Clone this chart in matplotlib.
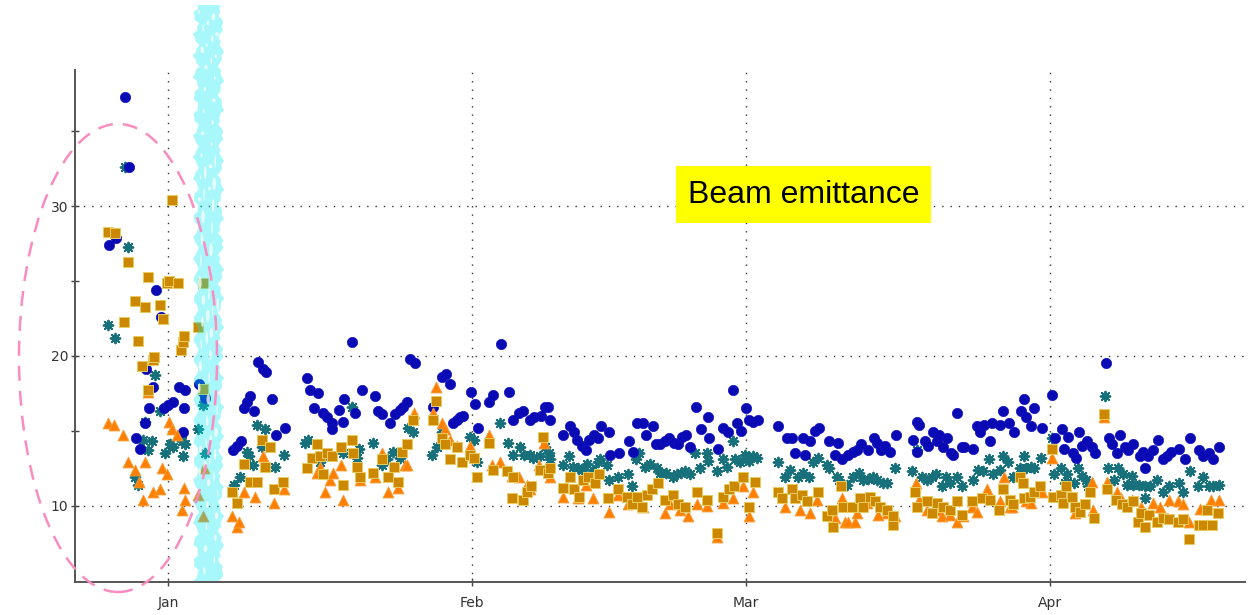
import matplotlib
matplotlib.use("Agg")
import matplotlib.pyplot as plt
import numpy as np
from matplotlib.patches import Ellipse, Polygon, Rectangle
from matplotlib.ticker import FixedLocator, NullFormatter

# ── Data: day offset from 1 Jan, emittance value ───────────────────────────────
circle_pts = [
    (-6.0, 27.4), (-5.3, 27.9), (-4.4, 37.3), (-4.0, 32.6), (-3.3, 14.5), (-2.9, 13.8),
    (-2.4, 15.5), (-2.3, 19.1), (-1.9, 16.5), (-1.5, 17.9), (-1.2, 24.4), (-0.7, 22.6),
    (-0.4, 16.5), (0.0, 16.7), (0.5, 16.9), (1.1, 17.9), (1.5, 14.9), (1.6, 16.5),
    (1.7, 17.7), (3.2, 18.1), (3.6, 17.6), (3.8, 17.2),
    (6.6, 13.7), (7.0, 14.0), (7.4, 14.3), (7.7, 16.5), (8.1, 16.9), (8.4, 17.3),
    (8.8, 16.3), (9.2, 19.6), (9.7, 19.1), (10.0, 18.9), (10.6, 17.1), (11.0, 14.7),
    (11.9, 15.2), (14.2, 18.5), (14.5, 17.7), (14.9, 16.5), (15.3, 17.5), (15.8, 16.2),
    (16.2, 15.9), (16.7, 15.5), (16.7, 15.1), (17.4, 16.4), (17.8, 15.6), (18.0, 17.1),
    (18.8, 20.9), (19.1, 16.2), (19.8, 17.7), (21.1, 17.3), (21.4, 16.3), (21.8, 16.1),
    (22.6, 15.5), (23.2, 16.1), (23.7, 16.4), (24.0, 16.6), (24.4, 16.9), (24.7, 19.8),
    (25.2, 19.5), (27.0, 16.6), (28.0, 18.6), (28.4, 18.8), (28.8, 18.1), (29.1, 15.5),
    (29.5, 15.7), (29.8, 15.9), (30.1, 16.0), (30.9, 17.6), (31.3, 16.8), (31.6, 15.2),
    (32.8, 16.9), (33.2, 17.4), (34.0, 20.8), (34.8, 17.6), (35.2, 15.7), (35.8, 16.2),
    (36.2, 16.3), (36.9, 15.7), (37.3, 15.9), (38.1, 16.0), (38.5, 16.6), (38.8, 16.6),
    (39.0, 15.7), (40.3, 14.7), (41.0, 15.3), (41.4, 14.9), (41.7, 14.4), (42.2, 14.0),
    (42.6, 13.7), (43.0, 14.4), (43.5, 14.7), (43.9, 14.5), (44.2, 15.3), (45.0, 14.9),
    (45.1, 13.4), (46.0, 13.5), (47.0, 14.3), (47.4, 13.6), (47.9, 15.5), (48.5, 15.5),
    (48.8, 14.7), (49.5, 15.3), (49.8, 14.1), (50.2, 14.1), (50.7, 14.3), (51.1, 14.5),
    (51.6, 14.2), (52.0, 14.1), (52.4, 14.6), (52.9, 14.7), (53.3, 13.9), (53.9, 16.6),
    (54.4, 15.1), (55.1, 15.9), (55.2, 14.5), (56.1, 13.8), (56.6, 15.2), (57.1, 14.9),
    (57.6, 17.7), (58.1, 15.5), (58.5, 15.0), (59.0, 16.5), (59.3, 15.7), (59.7, 15.6),
    (60.2, 15.7), (62.2, 15.3), (63.2, 14.5), (63.7, 14.5), (64.0, 13.5), (64.8, 14.5),
    (65.0, 13.4), (65.5, 14.3), (66.0, 15.0), (66.4, 15.2), (67.4, 14.3), (68.1, 13.4),
    (68.4, 14.2), (68.8, 13.1), (69.4, 13.4), (69.9, 13.6), (70.3, 13.7), (70.7, 14.1),
    (71.4, 13.7), (72.0, 14.5), (72.3, 14.2), (72.8, 13.7), (73.2, 14.0), (73.7, 13.6),
    (74.3, 14.7), (76.0, 14.4), (76.4, 15.6), (76.6, 15.4), (76.4, 13.6), (77.2, 14.3),
    (77.6, 14.0), (78.1, 14.9), (78.5, 14.3), (78.7, 14.7), (79.1, 13.9), (79.5, 14.5),
    (79.9, 13.5), (80.1, 13.4), (80.5, 16.2), (81.0, 13.9), (81.2, 13.9), (82.1, 13.8),
    (82.5, 15.3), (82.9, 14.9), (83.3, 15.4), (83.9, 14.3), (84.1, 15.5), (84.9, 15.4),
    (85.2, 16.3), (85.8, 15.5), (86.3, 14.9), (87.0, 16.3), (87.3, 17.1), (87.6, 15.9),
    (88.1, 15.3), (88.4, 16.5), (89.2, 15.2), (90.2, 17.4), (90.5, 14.5), (91.2, 15.1),
    (91.4, 13.8), (91.8, 14.6), (92.3, 13.5), (92.7, 13.2), (93.0, 14.9), (93.3, 14.0),
    (93.8, 14.3), (94.3, 13.9), (94.6, 13.5), (95.7, 19.5), (96.0, 14.5), (96.3, 14.1),
    (96.8, 13.5), (97.1, 14.7), (97.7, 13.9), (98.0, 13.7), (98.5, 14.1), (99.2, 13.3),
    (99.5, 13.6), (99.7, 12.5), (100.0, 13.3), (100.5, 13.7), (101.0, 14.4), (101.5, 13.1),
    (101.9, 13.3), (102.3, 13.6), (103.2, 13.8), (103.8, 13.1), (104.3, 14.5), (105.2, 13.7),
    (105.6, 13.3), (106.2, 13.5), (106.6, 13.1), (107.2, 13.9),
]

star_pts = [
    (-6.1, 22.1), (-5.4, 21.2), (-4.4, 32.6), (-4.1, 27.3), (-3.4, 11.9), (-3.1, 11.4),
    (-2.6, 14.4), (-2.4, 15.6), (-2.0, 13.7), (-1.6, 14.3), (-1.3, 18.7), (-0.8, 16.3),
    (-0.3, 13.5), (0.2, 14.1), (0.5, 13.9), (1.4, 14.3), (1.5, 13.3), (1.7, 14.1),
    (3.1, 15.1), (3.6, 16.7), (3.8, 13.5),
    (6.7, 11.4), (7.3, 11.9), (8.1, 13.6), (8.3, 13.3), (8.7, 12.7), (9.1, 15.4),
    (9.6, 13.9), (9.9, 15.1), (10.9, 12.6), (11.8, 13.4), (14.0, 14.2), (14.3, 14.4),
    (15.5, 12.9), (16.0, 13.4), (17.9, 13.5), (18.8, 16.6), (19.3, 13.2), (19.5, 13.8),
    (20.9, 14.2), (21.8, 12.7), (22.3, 13.1), (23.0, 13.6), (23.7, 13.2), (24.5, 15.2),
    (25.0, 14.9), (26.9, 13.4), (27.4, 13.9), (28.0, 14.9), (30.8, 14.6), (31.2, 14.4),
    (31.5, 12.9), (33.9, 15.5), (34.7, 14.2), (35.2, 13.4), (35.9, 13.9), (36.3, 13.4),
    (36.9, 13.4), (37.2, 13.2), (38.0, 13.3), (38.5, 13.9), (38.9, 13.5),
    (39.0, 13.1), (40.3, 12.7), (40.9, 13.3), (41.3, 12.6), (41.8, 12.5), (42.2, 12.4),
    (42.8, 12.8), (43.4, 12.4), (43.9, 12.9), (44.1, 13.1), (44.8, 12.7), (45.0, 11.7),
    (45.9, 11.9), (46.9, 12.1), (47.3, 11.3), (47.8, 13.1), (48.1, 13.5), (48.7, 12.6),
    (49.2, 12.8), (49.9, 12.5), (50.2, 12.2), (50.8, 12.2), (51.5, 11.9), (51.9, 12.1),
    (52.3, 12.2), (52.8, 12.3), (53.3, 12.1), (53.8, 13.5), (54.3, 12.5), (55.0, 13.5),
    (55.1, 13.0), (56.0, 12.3), (56.6, 13.1), (57.0, 12.6), (57.6, 14.3), (57.9, 13.1),
    (58.4, 12.9), (58.9, 13.4), (59.3, 13.0), (59.7, 13.3), (60.1, 13.2), (62.2, 12.9),
    (63.0, 11.9), (63.5, 12.4), (64.3, 11.9), (64.8, 12.2), (65.4, 11.9), (65.8, 12.9),
    (66.3, 13.2), (67.2, 12.7), (67.4, 12.5), (68.3, 11.9), (68.5, 11.7), (69.3, 11.4),
    (69.9, 11.9), (70.5, 12.2), (70.9, 11.7), (71.4, 11.8), (71.9, 11.9), (72.3, 11.7),
    (73.0, 11.5), (73.4, 11.5), (74.2, 12.5), (75.9, 12.3), (76.4, 13.7), (76.9, 11.9),
    (77.4, 11.7), (78.0, 11.9), (78.4, 12.1), (79.0, 11.3), (79.4, 11.9), (79.8, 11.5),
    (80.5, 11.9), (81.0, 11.3), (82.1, 11.7), (82.7, 12.4), (83.2, 12.3), (83.8, 13.1),
    (84.2, 12.1), (84.9, 12.4), (85.2, 13.3), (85.7, 12.9),
    (86.2, 11.9), (86.9, 12.5), (87.3, 13.3), (87.6, 12.5), (88.1, 12.6), (88.4, 12.5),
    (89.1, 13.2), (90.2, 14.5), (90.4, 12.1), (91.1, 12.5), (91.5, 11.5), (91.7, 12.1),
    (92.4, 11.5), (92.9, 12.5), (93.3, 12.0), (93.7, 11.7), (93.9, 11.3), (95.6, 17.3),
    (95.9, 12.5), (96.5, 11.7), (96.9, 12.5), (97.4, 12.1), (97.9, 11.4), (98.4, 12.0),
    (98.5, 11.4), (99.1, 11.4), (99.7, 10.5), (99.7, 11.3), (100.2, 11.3), (100.9, 11.7),
    (101.5, 10.9), (102.1, 11.3), (103.2, 11.5), (103.6, 10.9), (104.3, 12.3), (105.1, 11.3),
    (105.6, 11.9), (106.2, 11.3), (106.6, 11.3), (107.2, 11.4),
]

triangle_pts = [
    (-6.1, 15.5), (-5.5, 15.4), (-4.6, 14.7), (-4.1, 12.9), (-3.4, 12.4), (-3.0, 11.6),
    (-2.6, 10.4), (-2.4, 12.9), (-2.0, 17.6), (-1.5, 10.9), (-0.8, 11.1), (-0.6, 12.5),
    (-0.1, 12.1), (0.1, 15.6), (0.4, 15.1), (0.9, 14.7), (1.4, 9.7), (1.6, 11.2),
    (1.7, 10.4), (3.1, 10.7), (3.6, 9.3), (3.7, 12.5),
    (6.5, 9.3), (7.0, 8.6), (7.2, 8.9), (7.7, 10.9), (8.9, 10.6), (9.7, 13.3),
    (10.8, 10.2), (11.8, 11.1), (15.2, 12.2), (15.5, 12.6), (16.0, 10.9), (16.5, 11.7),
    (16.8, 12.2), (17.6, 12.7), (17.9, 10.4), (19.6, 11.7), (21.1, 11.9), (21.8, 13.5),
    (22.4, 10.9), (23.5, 11.2), (24.2, 12.7), (24.4, 12.7), (25.1, 16.2), (27.0, 16.2),
    (27.3, 17.9), (28.0, 15.5), (28.3, 15.1), (28.8, 14.4), (29.5, 14.0), (30.8, 14.0),
    (32.7, 14.7), (33.1, 12.7), (33.9, 12.9), (35.1, 12.0), (35.8, 11.9), (36.6, 11.4),
    (36.9, 11.1), (37.9, 12.7), (38.4, 14.2),
    (39.0, 11.9), (40.3, 10.6), (41.8, 10.5), (42.6, 11.4), (43.4, 10.5), (45.0, 9.6),
    (45.9, 10.7), (46.9, 10.1), (48.5, 9.9), (50.7, 9.5), (51.2, 10.1), (52.2, 9.7),
    (53.1, 9.3), (54.0, 10.1), (55.0, 10.0), (56.0, 7.9), (56.6, 10.2), (57.7, 10.5),
    (58.7, 11.3), (59.3, 9.3), (59.7, 10.9),
    (63.0, 9.9), (64.5, 9.7), (65.5, 9.5), (66.2, 10.4), (68.1, 9.2), (68.8, 10.5),
    (69.1, 8.9), (69.4, 8.9), (70.1, 8.9), (70.3, 9.5), (71.3, 10.2), (72.4, 9.4),
    (73.4, 9.5), (74.2, 9.3), (76.3, 11.5), (76.6, 10.4), (77.4, 9.7), (78.5, 9.7),
    (79.0, 9.3), (79.8, 9.4), (80.5, 8.9), (81.1, 9.3), (82.0, 9.9), (82.6, 9.6),
    (83.6, 11.1), (84.9, 10.3), (85.3, 11.9), (85.9, 9.9),
    (86.1, 9.9), (87.6, 10.3), (88.1, 10.2), (89.2, 10.9), (90.2, 13.2), (92.6, 9.5),
    (92.8, 9.9), (94.3, 11.6), (94.4, 9.7), (95.5, 15.9), (95.8, 11.6), (96.8, 10.9),
    (97.2, 10.5), (98.4, 10.4), (99.3, 9.9), (100.5, 10.2), (101.2, 9.9), (102.1, 10.4),
    (103.1, 10.3), (103.6, 10.1), (104.2, 8.9), (105.3, 9.8), (105.9, 9.8), (106.4, 10.4),
    (107.2, 10.4),
]

square_pts = [
    (-6.1, 28.3), (-5.4, 28.2), (-4.5, 22.3), (-4.1, 26.3), (-3.4, 23.7), (-3.1, 21.0),
    (-2.7, 19.3), (-2.4, 23.3), (-2.0, 25.3), (-2.0, 17.7), (-1.5, 19.7), (-1.4, 19.9),
    (-0.8, 23.4), (-0.5, 22.5), (-0.1, 24.9), (0.1, 25.0), (0.4, 30.4), (1.0, 24.9),
    (1.3, 20.4), (1.5, 20.9), (1.6, 21.3), (3.1, 21.9), (3.6, 24.9), (3.6, 17.8),
    (6.5, 10.9), (7.0, 10.2), (7.7, 12.8), (8.4, 11.6), (9.1, 11.6), (9.6, 14.4),
    (9.9, 12.6), (10.4, 13.9), (10.8, 11.1), (11.7, 11.6), (14.2, 12.5), (14.7, 13.2),
    (15.2, 14.1), (15.5, 13.3), (15.8, 12.1), (16.2, 13.5), (16.7, 13.3), (17.6, 13.9),
    (17.9, 11.4), (18.8, 14.4), (18.9, 13.5), (19.3, 12.6), (19.6, 11.9), (20.9, 12.2),
    (21.8, 13.1), (22.4, 11.9), (23.1, 12.6), (23.5, 11.6), (23.9, 13.6), (24.4, 14.1),
    (25.0, 15.7), (27.0, 15.7), (27.3, 17.0), (28.0, 14.5), (28.3, 14.1), (28.8, 13.1),
    (29.5, 13.9), (30.0, 12.9), (30.8, 13.4), (31.2, 13.2), (31.5, 11.9), (32.7, 14.2),
    (33.2, 12.4), (34.6, 12.3), (35.1, 10.5), (35.2, 11.9), (36.2, 10.4), (36.6, 10.9),
    (37.0, 11.3), (38.0, 12.4), (38.3, 14.6), (38.8, 12.2),
    (39.0, 12.5), (40.3, 11.2), (41.0, 11.9), (41.4, 11.1), (41.9, 10.6), (42.3, 11.7),
    (42.9, 11.9), (43.6, 11.5), (44.0, 12.1), (44.9, 10.5), (45.9, 11.1), (46.8, 10.6),
    (47.3, 10.1), (47.9, 10.6), (48.4, 9.9), (48.9, 10.7), (49.4, 11.1), (50.0, 11.5),
    (50.7, 10.4), (51.5, 10.7), (52.0, 10.1), (52.8, 9.9), (54.0, 10.9), (55.0, 10.4),
    (56.0, 8.2), (56.6, 10.6), (57.2, 11.1), (57.8, 11.3), (58.7, 11.9), (59.3, 9.9),
    (59.9, 11.6), (62.2, 10.9),
    (62.7, 10.5), (63.7, 11.1), (64.0, 10.5), (64.7, 10.7), (65.2, 10.3), (66.3, 10.9),
    (67.2, 9.3), (67.8, 9.7), (67.9, 8.6), (68.7, 11.3), (68.9, 9.9), (69.8, 9.9),
    (70.6, 10.5), (70.9, 9.9), (71.6, 10.6), (72.1, 10.3), (72.7, 9.9), (73.4, 9.7),
    (74.0, 8.7), (74.0, 9.3), (76.2, 10.9), (76.4, 9.9), (77.4, 10.3), (78.0, 9.5),
    (78.5, 10.2), (79.1, 9.9), (79.8, 9.7), (80.5, 10.3), (81.0, 9.4), (82.0, 10.3),
    (83.1, 10.5), (83.9, 10.4), (84.8, 9.7), (85.2, 11.1), (85.9, 10.4),
    (86.2, 10.1), (86.9, 11.9), (87.2, 11.5), (87.3, 10.5), (88.0, 10.6), (88.4, 10.9),
    (89.0, 11.3), (90.2, 13.8), (90.3, 10.6), (91.1, 10.7), (91.3, 10.2), (91.6, 11.3),
    (92.2, 10.6), (92.6, 9.9), (93.1, 9.6), (93.6, 10.1), (94.1, 10.9), (94.5, 9.2),
    (95.5, 16.1), (95.8, 11.1), (96.7, 10.4), (97.3, 10.1), (97.9, 9.9), (98.5, 10.3),
    (99.0, 8.9), (99.3, 9.5), (99.7, 8.6), (100.1, 9.4), (100.9, 8.9), (101.5, 9.2),
    (102.1, 9.1), (103.1, 8.9), (103.6, 9.1), (104.2, 7.8), (105.2, 8.7), (105.6, 8.7),
    (106.0, 9.7), (106.5, 8.7), (107.1, 9.5),
]

month_days = [0, 31, 59, 90]
month_labels = ["Jan", "Feb", "Mar", "Apr"]
ytick_labeled = [10, 20, 30]
ytick_minor = [15, 25, 35]

# ── Figure ─────────────────────────────────────────────────────────────────────
W, H = 1257, 615
fig = plt.figure(figsize=(W / 100, H / 100), dpi=100)
fig.patch.set_facecolor("white")
ax = fig.add_axes([75 / W, 1 - 582 / H, (1245 - 75) / W, (582 - 70) / H])
ax.set_xlim(-9.5, 109.9)
ax.set_ylim(4.93, 39.07)


def px(x, y):
    """pixel position (from top-left) -> figure fraction"""
    return x / W, 1 - y / H


cs = np.array(star_pts).T
cc = np.array(circle_pts).T
ct = np.array(triangle_pts).T
cq = np.array(square_pts).T

ax.scatter(cs[0], cs[1], marker=(8, 2, 0), s=48, color="#17707a", linewidths=1.4, zorder=3)
ax.scatter(cc[0], cc[1], marker="o", s=55, color="#0a0ab4", edgecolors="#1010c0",
           linewidths=0.5, zorder=4)
ax.scatter(ct[0], ct[1], marker="^", s=62, color="#ff8000", edgecolors="#f4a040",
           linewidths=0.6, zorder=5)
ax.scatter(cq[0], cq[1], marker="s", s=52, color="#cc8800", edgecolors="#e8cc60",
           linewidths=0.7, zorder=6)

# axes styling
for side in ("top", "right"):
    ax.spines[side].set_visible(False)
for side in ("left", "bottom"):
    ax.spines[side].set_color("#555555")
    ax.spines[side].set_linewidth(1.4)

ax.set_xticks(month_days)
ax.set_xticklabels(month_labels)
ax.set_yticks(ytick_labeled)
ax.yaxis.set_minor_locator(FixedLocator(ytick_minor))
ax.yaxis.set_minor_formatter(NullFormatter())
ax.tick_params(axis="both", which="both", direction="inout", length=6, width=1,
               color="#444444", labelsize=10, labelcolor="#333333")
ax.tick_params(axis="x", pad=7)
ax.tick_params(axis="y", pad=2)
ax.grid(True, which="major", linestyle=(0, (1, 5)), linewidth=1.0, color="#333333")
ax.set_axisbelow(True)

# hand-drawn cyan marker band across the first days of January
ys = np.linspace(5, 581, 160)
left_edge = 196 + 2.5 * np.sin(ys * 0.31) + 1.5 * np.sin(ys * 0.87 + 1.0)
right_edge = 221 + 2.0 * np.sin(ys * 0.23 + 2.0) + 1.5 * np.sin(ys * 1.1)
band = [px(x, y) for x, y in zip(left_edge, ys)] + \
       [px(x, y) for x, y in zip(right_edge[::-1], ys[::-1])]
fig.add_artist(Polygon(band, closed=True, transform=fig.transFigure,
                       facecolor="#00eaf6", alpha=0.34, edgecolor="none", zorder=10))

# white streaks inside the marker stroke
phi = 0.6180339887
for k in range(70):
    sx = 199 + 19 * ((k * phi) % 1.0)
    sy = 12 + 565 * ((k * 0.7548776662) % 1.0)
    ex, ey = px(sx, sy)
    fig.add_artist(Ellipse((ex, ey), (1.5 + (k % 3)) / W, (4 + 3 * (k % 4)) / H,
                           transform=fig.transFigure, facecolor="white",
                           edgecolor="none", alpha=0.75, zorder=10.5))

# dashed pink ellipse around the start-up period
cx, cy = px(118, 358)
fig.add_artist(Ellipse((cx, cy), 198 / W, 468 / H, transform=fig.transFigure,
                       fill=False, edgecolor="#f98cc0", linewidth=1.8,
                       linestyle=(0, (6, 4)), zorder=11))

# yellow label box
bx, by = px(676, 223)
fig.add_artist(Rectangle((bx, by), (931 - 676) / W, (223 - 166) / H,
                         transform=fig.transFigure, facecolor="#ffff00",
                         edgecolor="none", zorder=12))
tx, ty = px(803.5, 195)
fig.text(tx, ty, "Beam emittance", ha="center", va="center", fontsize=23,
         family="Liberation Sans", color="black", zorder=13)

fig.savefig("out.png", dpi=100, facecolor="white")
